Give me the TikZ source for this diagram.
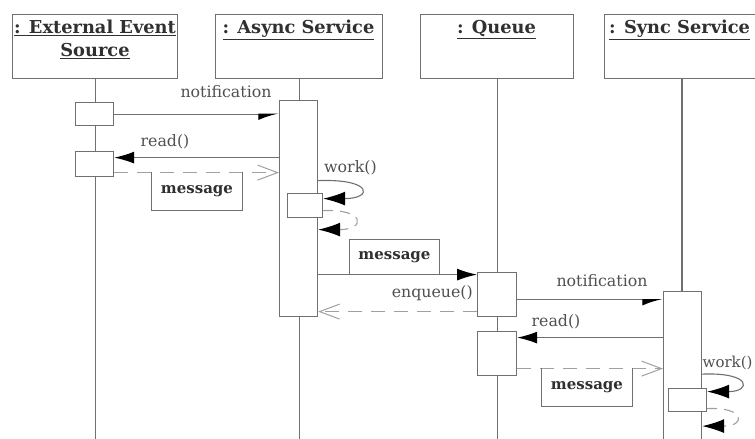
\documentclass[tikz,border=0pt]{standalone}
\usepackage{fontspec}
\setmainfont{DejaVu Serif}
\usetikzlibrary{arrows.meta}

\definecolor{linegray}{HTML}{707070}
\definecolor{dashgray}{HTML}{A0A0A0}
\definecolor{inkgray}{HTML}{303030}
\definecolor{labelgray}{HTML}{505050}

\tikzset{
  obj/.style={draw=linegray, line width=1.2pt, fill=white, inner sep=0pt},
  headtext/.style={font=\fontsize{17.8}{22}\selectfont\bfseries, text=inkgray, align=center, anchor=north, inner sep=0pt},
  lifeline/.style={draw=linegray, line width=1.2pt},
  actbox/.style={obj, anchor=north west},
  lbl/.style={font=\fontsize{15.8}{19}\selectfont, text=labelgray, inner sep=0pt},
  msglbl/.style={font=\fontsize{15}{18}\selectfont\bfseries, text=inkgray, inner sep=0pt},
  frame3/.style={draw=linegray, line width=1.1pt},
  callmsg/.style={draw=linegray, line width=1.2pt, -{Latex[length=20pt,width=12pt,color=black]}},
  asyncmsg/.style={draw=linegray, line width=1.2pt, -{Latex[harpoon,swap,length=18pt,width=12pt,color=black]}},
  retmsg/.style={draw=dashgray, line width=1.2pt, dash pattern=on 14pt off 9pt, -{Straight Barb[length=20pt,width=15pt,line width=1pt,color=dashgray]}},
  loopmsg/.style={draw=linegray, line width=1.1pt, -{Latex[length=22pt,width=14pt,color=black]}},
  loopret/.style={draw=dashgray, line width=1.1pt, dash pattern=on 10pt off 7pt, -{Latex[length=22pt,width=14pt,color=black]}},
}

\begin{document}
\begin{tikzpicture}[x=1pt,y=-1pt]
\useasboundingbox (0,0) rectangle (755,439);
\clip (0,0) rectangle (755,439);
\fill[white] (0,0) rectangle (755,439);

% object heads
\node[obj, anchor=north west, minimum width=165pt, minimum height=64pt] (hE) at (12,14) {};
\node[obj, anchor=north west, minimum width=167pt, minimum height=64pt] (hA) at (215,14) {};
\node[obj, anchor=north west, minimum width=153pt, minimum height=64pt] (hQ) at (420,14) {};
\node[obj, anchor=north west, minimum width=156pt, minimum height=64pt] (hS) at (604,14) {};

\node[headtext] (tE) at (95,20) {\underline{: External Event}\\[1pt]\underline{Source}};
\node[headtext] (tA) at (298.5,20) {\underline{: Async Service}};
\node[headtext] (tQ) at (496.5,20) {\underline{: Queue}};
\node[headtext, anchor=north west] (tS) at (609,20) {\underline{: Sync Service}};

% lifelines
\coordinate (bottom) at (0,445);
\draw[lifeline] (hE.south) -- (hE.south |- bottom);
\draw[lifeline] (hA.south) -- (hA.south |- bottom);
\draw[lifeline] (hQ.south) -- (hQ.south |- bottom);
\draw[lifeline] (682,78) -- (682,445);

% activations
\node[actbox, minimum width=38pt, minimum height=23pt] (e1) at (75,102) {};
\node[actbox, minimum width=38pt, minimum height=25pt] (e2) at (75,151) {};
\node[actbox, minimum width=38pt, minimum height=216pt] (aA) at (279,100) {};
\node[actbox, minimum width=35pt, minimum height=24pt] (aN) at (287,193) {};
\node[actbox, minimum width=39pt, minimum height=44pt] (q1) at (477,272) {};
\node[actbox, minimum width=39pt, minimum height=44pt] (q2) at (477,331) {};
\node[actbox, minimum width=38pt, minimum height=160pt] (sA) at (663,291) {};
\node[actbox, minimum width=38pt, minimum height=23pt] (sN) at (668,388) {};

% source -> async service
\draw[asyncmsg] (e1.east) -- (e1.east -| aA.west);
\node[lbl] (l1) at (226,92) {notification};

\coordinate (r1) at ([yshift=6.5pt]e2.east);
\draw[callmsg] (aA.west |- r1) -- (r1);
\node[lbl] (l2) at (165,142) {read()};

\coordinate (r2) at ([yshift=-8.5pt]e2.east);
\draw[retmsg] (r2) -- (aA.west |- r2);
\node[msglbl, minimum width=90pt, minimum height=38pt] (m1) at (197,191) {message};
\draw[frame3] (m1.north west) -- (m1.south west) -- (m1.south east) -- (m1.north east);

% async service work
\node[lbl, anchor=west] (l3) at (324,168) {work()};
\draw[loopmsg] ([yshift=28pt]aA.east) .. controls +(55,-2) and +(50,0) .. ([yshift=7pt]aN.east);
\draw[loopret] ([yshift=-5pt]aN.east) .. controls +(42,-2) and +(48,0) .. ([yshift=-21pt]aA.east);

% async service -> queue
\coordinate (r3) at ([yshift=20pt]q1.west);
\draw[callmsg] (aA.east |- r3) -- (r3);
\node[msglbl, minimum width=89pt, minimum height=34pt] (m2) at (394.5,257) {message};
\draw[frame3] (m2.south west) -- (m2.north west) -- (m2.north east) -- (m2.south east);

\coordinate (r4) at ([yshift=-17pt]q1.west);
\draw[retmsg] (r4) -- (aA.east |- r4);
\node[lbl, anchor=east] (l4) at (473,293) {enqueue()};

% queue -> sync service
\coordinate (r5) at ([yshift=-5pt]q1.east);
\draw[asyncmsg] (r5) -- (sA.west |- r5);
\node[lbl] (l5) at (602,281) {notification};

\coordinate (r6) at ([yshift=16pt]q2.east);
\draw[callmsg] (sA.west |- r6) -- (r6);
\node[lbl] (l6) at (556,322) {read()};

\coordinate (r7) at ([yshift=-15pt]q2.east);
\draw[retmsg] (r7) -- (sA.west |- r7);
\node[msglbl, minimum width=90pt, minimum height=38pt] (m3) at (587,387) {message};
\draw[frame3] (m3.north west) -- (m3.south west) -- (m3.south east) -- (m3.north east);

% sync service work
\node[lbl, anchor=west, font=\fontsize{15}{18}\selectfont] (l7) at (702.5,363) {work()};
\draw[loopmsg] ([yshift=-2.5pt]sA.east) .. controls +(50,-2) and +(44,0) .. ([yshift=8.5pt]sN.east);
\draw[loopret] ([yshift=-8.5pt]sN.east) .. controls +(38,-2) and +(44,0) .. ([yshift=-54.5pt]sA.east);
\end{tikzpicture}
\end{document}
